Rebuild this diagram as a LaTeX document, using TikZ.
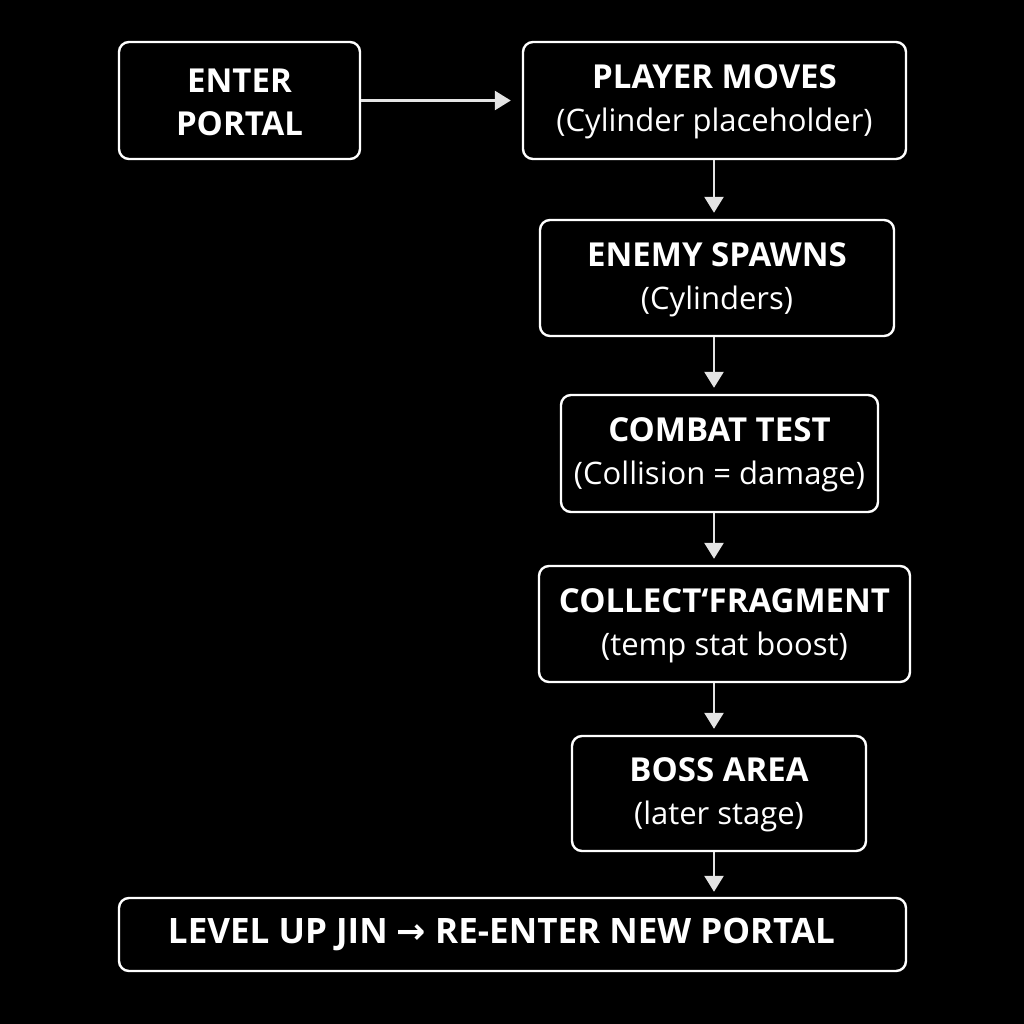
\documentclass[tikz,border=0pt]{standalone}
\usepackage{fontspec}
\setmainfont{Open Sans}
\newfontfamily\arrowfont{DejaVu Sans}
\usetikzlibrary{arrows.meta}
\definecolor{linegray}{HTML}{E4E4E4}
\tikzset{
  box/.style={draw=white, line width=2.4pt, rounded corners=10pt, text=white,
    align=center, inner sep=0pt, font=\fontsize{31}{43}\selectfont},
  arr/.style={draw=linegray, line width=2.6pt,
    -{Triangle[width=19pt,length=16pt]}},
}
\newcommand{\ttl}[1]{\rule{0pt}{27pt}{\fontsize{33}{43}\selectfont\bfseries #1}}
\begin{document}
\begin{tikzpicture}[x=1pt,y=-1pt]
\fill[black] (0,0) rectangle (1024,1024);
\useasboundingbox (0,0) rectangle (1024,1024);
\node[box, minimum width=241pt, minimum height=117pt] (b1) at (239.5,100.5) {\ttl{ENTER}\\{\fontsize{33}{43}\selectfont\bfseries PORTAL}};
\node[box, minimum width=383pt, minimum height=117pt] (b2) at (714.5,100.5) {\ttl{PLAYER MOVES}\\(Cylinder placeholder)};
\node[box, minimum width=354pt, minimum height=116pt] (b3) at (717,278) {\ttl{ENEMY SPAWNS}\\(Cylinders)};
\node[box, minimum width=317pt, minimum height=117pt] (b4) at (719.5,453.5) {\ttl{COMBAT TEST}\\(Collision = damage)};
\node[box, minimum width=371pt, minimum height=116pt] (b5) at (724.5,624) {\ttl{COLLECT‘FRAGMENT}\\(temp stat boost)};
\node[box, minimum width=294pt, minimum height=115pt] (b6) at (719,793.5) {\ttl{BOSS AREA}\\(later stage)};
\node[box, minimum width=787pt, minimum height=73pt, font=\fontsize{35}{44}\selectfont\bfseries] (b7) at (512.5,934.5) {LEVEL UP JIN {\arrowfont\bfseries →} RE-ENTER NEW PORTAL\hspace*{22pt}};
\coordinate (ax) at (714,0);
\draw[arr, shorten >=11pt] (b1.east) -- (b2.west);
\draw[arr, shorten >=6pt] (b2.south -| ax) -- (b3.north -| ax);
\draw[arr, shorten >=6pt] (b3.south -| ax) -- (b4.north -| ax);
\draw[arr, shorten >=6pt] (b4.south -| ax) -- (b5.north -| ax);
\draw[arr, shorten >=6pt] (b5.south -| ax) -- (b6.north -| ax);
\draw[arr, shorten >=5pt] (b6.south -| ax) -- (b7.north -| ax);
\end{tikzpicture}
\end{document}
